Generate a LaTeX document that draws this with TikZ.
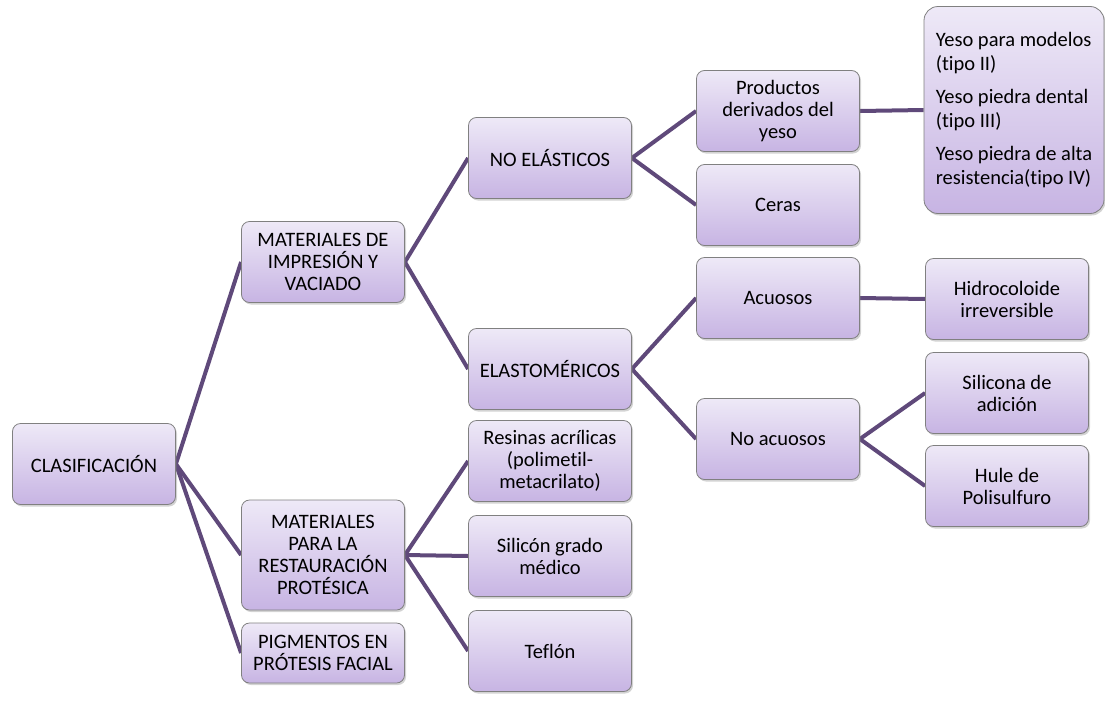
\documentclass[tikz,border=0pt]{standalone}
\usepackage{fontspec}
\setmainfont{Carlito}[Ligatures=NoCommon]
\usetikzlibrary{shadows,backgrounds}

\definecolor{linkc}{RGB}{95,73,122}
\definecolor{boxtop}{RGB}{238,233,247}
\definecolor{boxbot}{RGB}{199,180,227}
\definecolor{boxline}{RGB}{128,128,128}

\begin{document}
\begin{tikzpicture}[x=1pt,y=-1pt,
  box/.style={draw=boxline, line width=0.8pt, rounded corners=8pt,
    top color=boxtop, bottom color=boxbot,
    minimum width=163pt, minimum height=81pt, inner sep=2pt,
    align=center, font=\fontsize{20.5}{22}\selectfont,
    drop shadow={shadow xshift=1.5pt, shadow yshift=-2pt, opacity=0.35}},
  link/.style={draw=linkc, line width=4pt}
  ]
  \useasboundingbox (0,0) rectangle (1105,707);

  % level 0
  \node[box] (clas) at (94,464) {CLASIFICACIÓN};

  % level 1
  \node[box] (imp) at (323,262) {MATERIALES DE\\IMPRESIÓN Y\\VACIADO};
  \node[box, minimum height=110pt] (rest) at (323,555) {MATERIALES\\PARA LA\\RESTAURACIÓN\\PROTÉSICA};
  \node[box, minimum height=60pt] (pigm) at (323,653) {PIGMENTOS EN\\PRÓTESIS FACIAL};

  % level 2
  \node[box] (noel) at (550,158) {NO ELÁSTICOS};
  \node[box] (elas) at (550,369) {ELASTOMÉRICOS};
  \node[box] (resi) at (550,461) {Resinas acrílicas\\(polimetil-\\metacrilato)};
  \node[box] (sili) at (550,556) {Silicón grado\\médico};
  \node[box] (tefl) at (550,651) {Teflón};

  % level 3
  \node[box] (prod) at (778,111) {Productos\\derivados del\\yeso};
  \node[box] (cera) at (778,205) {Ceras};
  \node[box] (acuo) at (778,298) {Acuosos};
  \node[box] (noac) at (778,439) {No acuosos};

  % level 4
  \node[box, rounded corners=14pt, minimum width=180pt, minimum height=207pt,
    align=left, inner xsep=5pt, font=\fontsize{20.5}{24}\selectfont] (yeso) at (1014,110)
    {Yeso para modelos\\(tipo II)\\[9pt]Yeso piedra dental\\(tipo III)\\[9pt]Yeso piedra de alta\\resistencia(tipo IV)};
  \node[box] (hidr) at (1007,299) {Hidrocoloide\\irreversible};
  \node[box] (sadi) at (1007,393) {Silicona de\\adición};
  \node[box] (hule) at (1007,486) {Hule de\\Polisulfuro};

  \begin{scope}[on background layer]
  \foreach \a/\b in {clas/imp,clas/rest,clas/pigm,
                     imp/noel,imp/elas,
                     rest/resi,rest/sili,rest/tefl,
                     noel/prod,noel/cera,
                     elas/acuo,elas/noac,
                     prod/yeso,acuo/hidr,
                     noac/sadi,noac/hule}
    \draw[link] (\a.east) -- (\b.west);
  \end{scope}
\end{tikzpicture}
\end{document}
